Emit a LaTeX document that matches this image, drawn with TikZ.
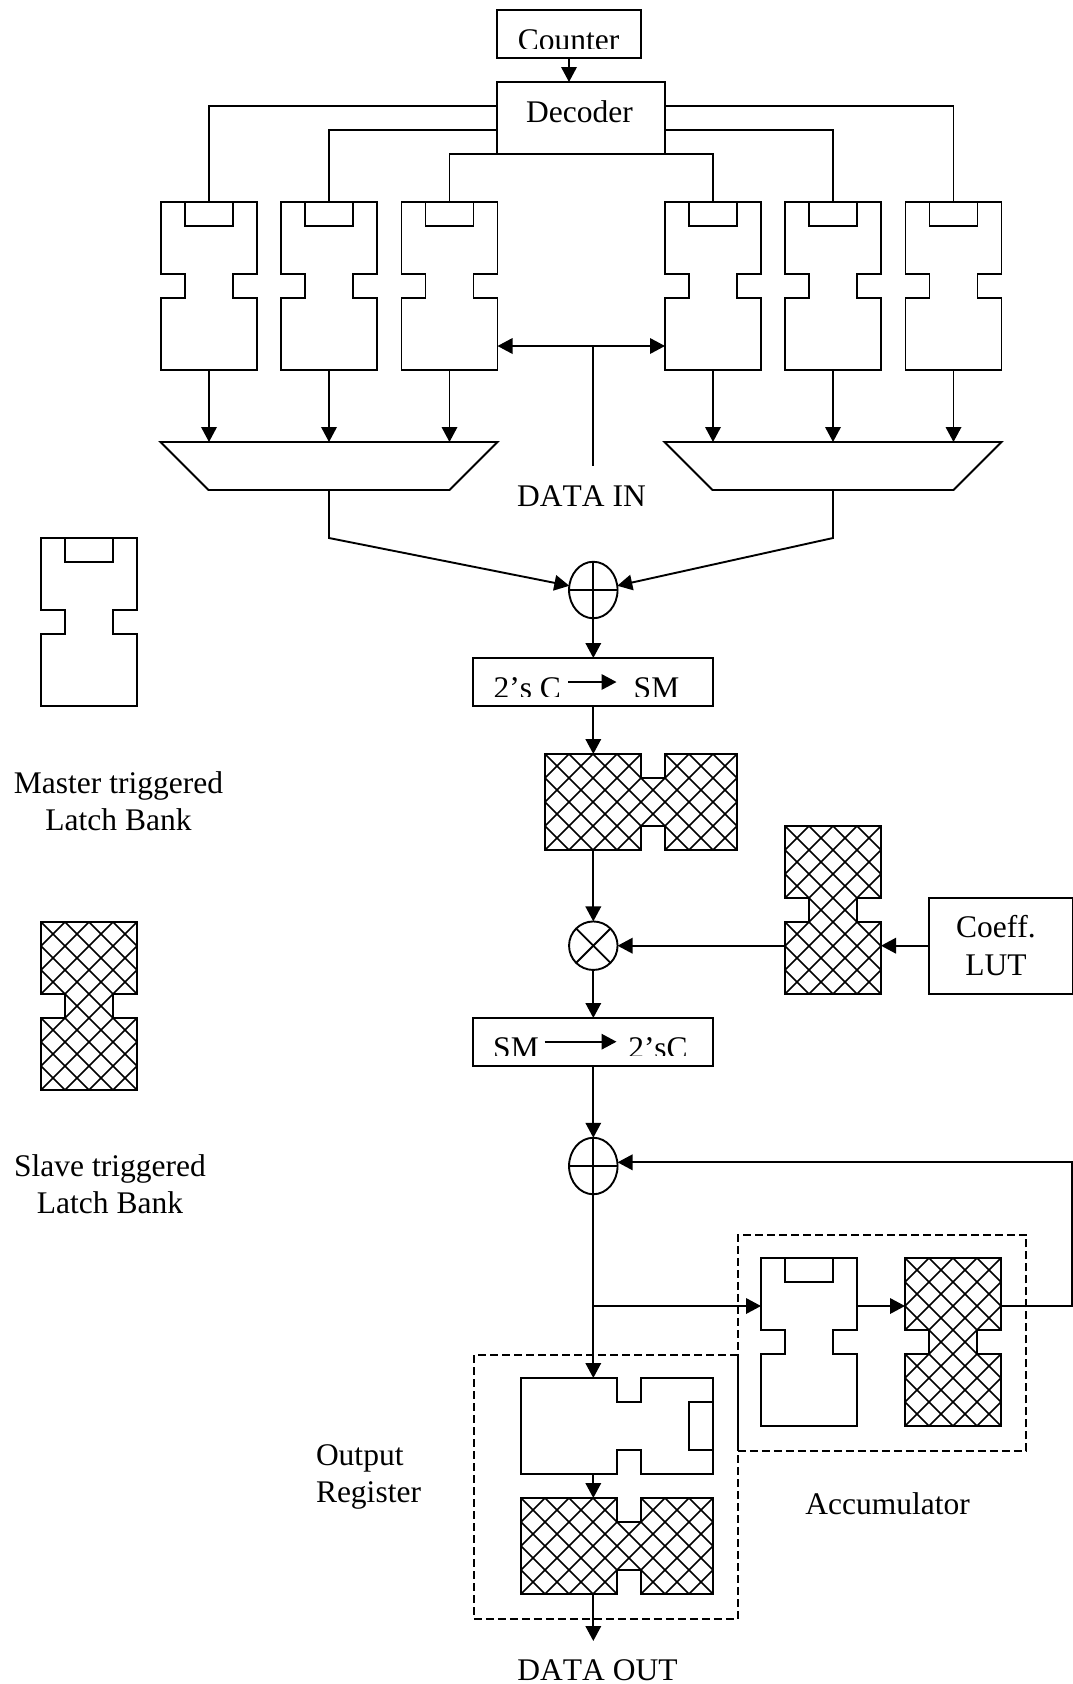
\documentclass[tikz,border=0pt]{standalone}
\usepackage{fontspec}
\setmainfont[Kerning=Off]{Liberation Serif}
\usetikzlibrary{arrows.meta,shapes.geometric}

\tikzset{
  lbl/.style={anchor=base, inner sep=0pt, outer sep=0pt, font=\fontsize{31.5}{36}\selectfont},
  blockbox/.style={draw, anchor=north west, inner sep=0pt, outer sep=0pt},
  dashbox/.style={draw, dashed, dash pattern=on 8pt off 4pt, anchor=north west, inner sep=0pt},
  latchv/.style={anchor=north west, inner sep=0pt, outer sep=0pt, minimum width=96pt, minimum height=168pt},
  latchh/.style={anchor=north west, inner sep=0pt, outer sep=0pt, minimum width=192pt, minimum height=96pt},
  muxbox/.style={inner sep=0pt, outer sep=0pt, minimum width=337pt, minimum height=48pt},
  sumnode/.style={draw, ellipse, minimum width=48.5pt, minimum height=56.5pt, inner sep=0pt, outer sep=0pt},
  multnode/.style={draw, circle, minimum size=48.5pt, inner sep=0pt, outer sep=0pt}
}

% latch outlines
\newcommand{\vpath}{(0,0) -- (96,0) -- (96,72) -- (72,72) -- (72,96) -- (96,96) -- (96,168) -- (0,168) -- (0,96) -- (24,96) -- (24,72) -- (0,72) -- cycle}
\newcommand{\hpath}{(0,0) -- (96,0) -- (96,24) -- (120,24) -- (120,0) -- (192,0) -- (192,96) -- (120,96) -- (120,72) -- (96,72) -- (96,96) -- (0,96) -- cycle}
\newcommand{\crosshatch}{\foreach \k in {-8,...,16} {
    \draw[line width=1.6pt] (24*\k,0) -- ++(200,200);
    \draw[line width=1.6pt] (24*\k,0) -- ++(-200,200);
  }}
\newcommand{\masterv}[3]{\node[latchv] (#1) at (#2,#3) {};
  \begin{scope}[shift={(#2,#3)}]
    \draw \vpath;
    \draw (24,0) -- (24,24) -- (72,24) -- (72,0);
  \end{scope}}
\newcommand{\slavev}[3]{\node[latchv] (#1) at (#2,#3) {};
  \begin{scope}[shift={(#2,#3)}]
    \begin{scope}
      \clip \vpath;
      \crosshatch
    \end{scope}
    \draw \vpath;
  \end{scope}}
\newcommand{\masterh}[3]{\node[latchh] (#1) at (#2,#3) {};
  \begin{scope}[shift={(#2,#3)}]
    \draw \hpath;
    \draw (192,24) -- (168,24) -- (168,72) -- (192,72);
  \end{scope}}
\newcommand{\slaveh}[3]{\node[latchh] (#1) at (#2,#3) {};
  \begin{scope}[shift={(#2,#3)}]
    \begin{scope}
      \clip \hpath;
      \crosshatch
    \end{scope}
    \draw \hpath;
  \end{scope}}

\begin{document}
\begin{tikzpicture}[x=1pt, y=-1pt, line width=1.9pt, >={Triangle[length=15pt,width=15.5pt]}]
\useasboundingbox (0,0) rectangle (1073,1684);

% counter and decoder
\node[blockbox, minimum width=144pt, minimum height=48pt] (counter) at (497,10) {};
\begin{scope}
  \clip (497,12) rectangle (641,48.3);
  \node[lbl] (countertext) at (568.5,50.5) {Counter};
\end{scope}
\node[blockbox, minimum width=168pt, minimum height=72pt] (decoder) at (497,82) {};
\node[lbl] (decodertext) at (579.5,122.5) {Decoder};
\draw[->] (counter.south) -- (counter.south |- decoder.north);

% latch banks on top
\masterv{lat1}{161}{202}
\masterv{lat2}{281}{202}
\masterv{lat3}{401.5}{202}
\masterv{lat4}{665}{202}
\masterv{lat5}{785}{202}
\masterv{lat6}{905.5}{202}

% decoder outputs
\draw (decoder.west |- 0,106) -| (lat1.north);
\draw (decoder.west |- 0,130) -| (lat2.north);
\draw (lat3.north) |- (decoder.south) -| (lat4.north);
\draw (decoder.east |- 0,130) -| (lat5.north);
\draw (decoder.east |- 0,106) -| (lat6.north);

% muxes
\node[muxbox] (mux1) at (329,466) {};
\node[muxbox] (mux2) at (833,466) {};
\foreach \b in {mux1, mux2}
  \draw (\b.north west) -- (\b.north east) -- ++(-48,48) -- ++(-241,0) -- cycle;
\foreach \a/\b in {lat1/mux1, lat2/mux1, lat3/mux1, lat4/mux2, lat5/mux2, lat6/mux2}
  \draw[->] (\a.south) -- (\a.south |- \b.north);

% data in
\coordinate (bus) at (593.3,346);
\coordinate (busend) at (593.3,466);
\draw[<->] (bus -| lat3.east) -- (bus -| lat4.west);
\draw (bus) -- (busend);
\node[lbl] (datain) at (581.5,506) {DATA IN};

% first adder
\node[sumnode] (add1) at (593.3,590) {};
\draw (add1.north) -- (add1.south);
\draw (add1.west) -- (add1.east);
\coordinate (bend1) at (329,538);
\coordinate (bend2) at (833,538);
\draw[->] (mux1.south) -- (bend1) -- (add1.170);
\draw[->] (mux2.south) -- (bend2) -- (add1.10);

% 2's complement to sign magnitude
\node[blockbox, minimum width=240pt, minimum height=48pt] (conv1) at (473,658) {};
\begin{scope}
  \clip (474,660) rectangle (712,696);
  \node[lbl] (conv1a) at (527.2,698.5) {2’s C};
  \node[lbl] (conv1b) at (656.5,698.5) {SM};
\end{scope}
\coordinate (arr1a) at (568,682);
\coordinate (arr1b) at (616.5,682);
\draw[->] (arr1a) -- (arr1b);
\draw[->] (add1.south) -- (add1.south |- conv1.north);

% slave and multiplier
\slaveh{slv1}{545}{754}
\node[multnode] (mult) at (593.3,945.7) {};
\draw (mult.north west) -- (mult.south east);
\draw (mult.north east) -- (mult.south west);
\coordinate (top1) at (593.3,706);
\draw[->] (top1) -- (top1 |- slv1.north);
\draw[->] (slv1.south -| top1) -- (mult.north);

% coefficient branch
\slavev{slv2}{785}{826}
\node[blockbox, minimum width=144pt, minimum height=96pt] (lut) at (928.7,898) {};
\node[lbl] (luta) at (996,937) {Coeff.};
\node[lbl] (lutb) at (996,975) {LUT};
\draw[->] (lut.west |- mult.east) -- (slv2.east |- mult.east);
\draw[->] (slv2.west |- mult.east) -- (mult.east);

% sign magnitude back to 2's complement
\node[blockbox, minimum width=240pt, minimum height=48pt] (conv2) at (473,1018) {};
\begin{scope}
  \clip (474,1020) rectangle (712,1055);
  \node[lbl] (conv2a) at (516,1058) {SM};
  \node[lbl] (conv2b) at (658,1058) {2’sC};
\end{scope}
\coordinate (arr2a) at (544.5,1041.7);
\coordinate (arr2b) at (616.5,1041.7);
\draw[->] (arr2a) -- (arr2b);
\draw[->] (mult.south) -- (mult.south |- conv2.north);

% second adder
\node[sumnode] (add2) at (593.3,1166) {};
\draw (add2.north) -- (add2.south);
\draw (add2.west) -- (add2.east);
\draw[->] (conv2.south -| add2.north) -- (add2.north);

% accumulator
\node[dashbox, minimum width=288.5pt, minimum height=216pt] (accbox) at (736.8,1234) {};
\masterv{acc1}{761}{1258}
\slavev{acc2}{905}{1258}
\coordinate (accin) at (593.3,1306);
\coordinate (fbcorner) at (1072.3,1306);
\coordinate (fbtop) at (1072.3,1162.3);
\draw[->] (accin) -- (accin -| acc1.west);
\draw[->] (accin -| acc1.east) -- (accin -| acc2.west);
\draw[->] (accin -| acc2.east) -- (fbcorner) -- (fbtop) -- (fbtop -| add2.east);
\node[lbl] (acclabel) at (887.5,1514) {Accumulator};

% output register
\node[dashbox, minimum width=263.8pt, minimum height=264pt] (outbox) at (473,1354) {};
\masterh{out1}{521}{1378}
\slaveh{out2}{521}{1498}
\coordinate (outtop) at (593.3,1378);
\coordinate (outa) at (593.3,1474);
\coordinate (outb) at (593.3,1498);
\coordinate (outc) at (593.3,1594);
\coordinate (outd) at (593.3,1641);
\draw[->] (add2.south) -- (outtop);
\draw[->] (outa) -- (outb);
\draw[->] (outc) -- (outd);
\node[lbl] (dataout) at (597.5,1680.5) {DATA OUT};
\node[lbl, anchor=base west] (reg1) at (316,1465) {Output};
\node[lbl, anchor=base west] (reg2) at (316,1502) {Register};

% legend on the left
\masterv{keym}{41}{538}
\slavev{keys}{41}{922}
\node[lbl] (keym1) at (118.5,793) {Master triggered};
\node[lbl] (keym2) at (118.5,830) {Latch Bank};
\node[lbl] (keys1) at (110,1176.5) {Slave triggered};
\node[lbl] (keys2) at (110,1213) {Latch Bank};
\end{tikzpicture}
\end{document}
